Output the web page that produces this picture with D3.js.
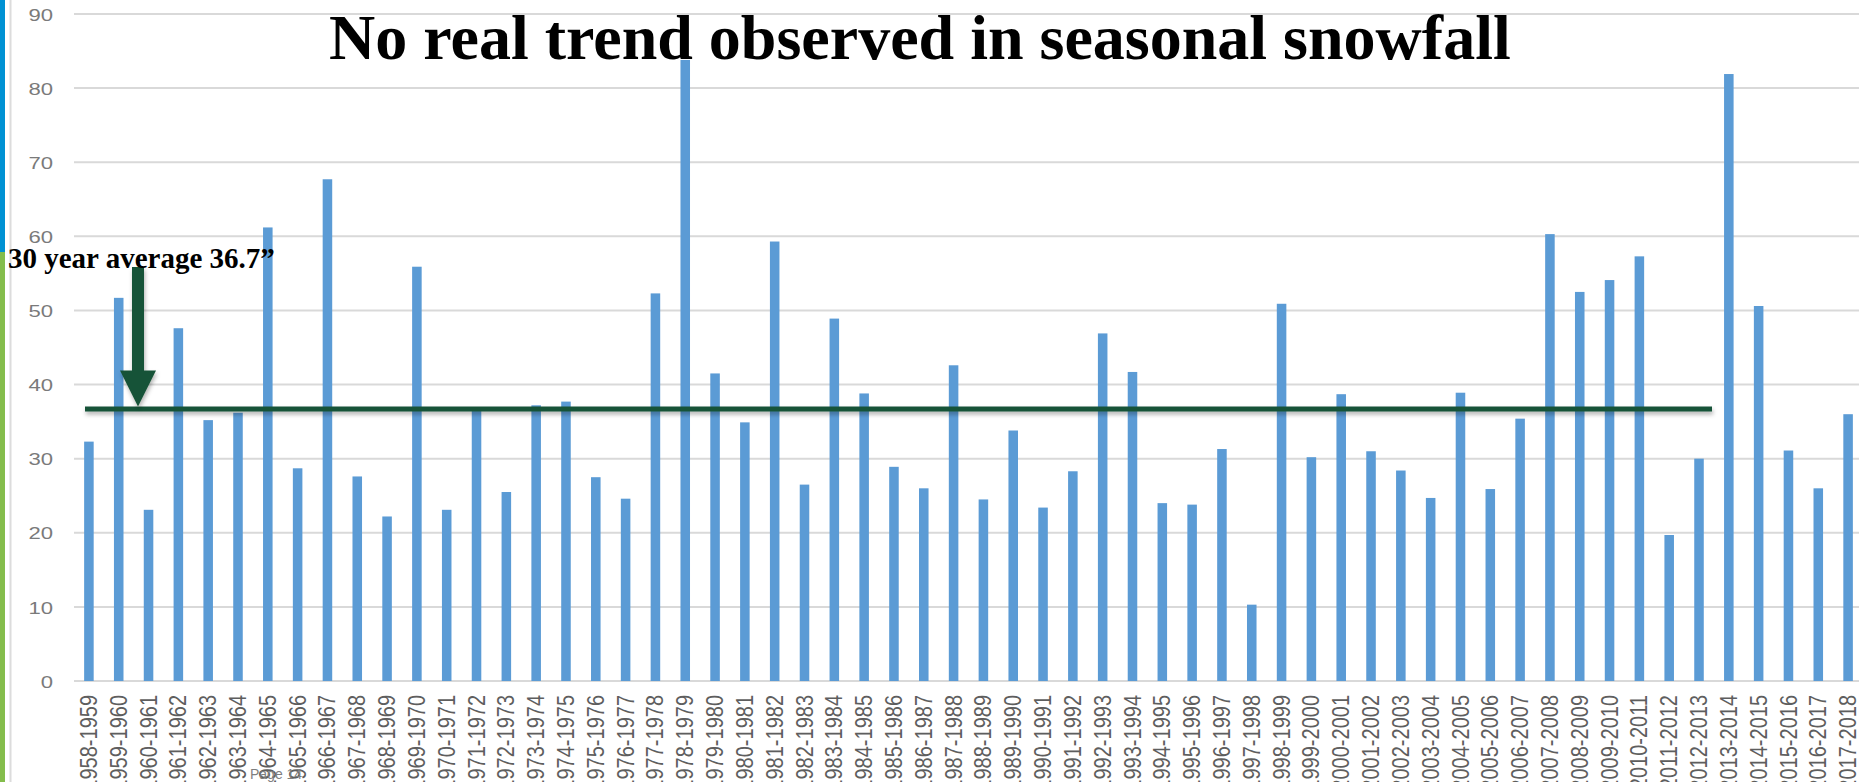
<!DOCTYPE html>
<html>
<head>
<meta charset="utf-8">
<script src="https://cdn.jsdelivr.net/npm/d3@7/dist/d3.min.js"></script>
<style>
  html, body { margin: 0; padding: 0; background: #ffffff; overflow: hidden; }
  svg { display: block; }
</style>
</head>
<body>
<script>
// Seasonal snowfall totals (inches), one bar per winter season
const seasons = [
  "1958-1959","1959-1960","1960-1961","1961-1962","1962-1963","1963-1964",
  "1964-1965","1965-1966","1966-1967","1967-1968","1968-1969","1969-1970",
  "1970-1971","1971-1972","1972-1973","1973-1974","1974-1975","1975-1976",
  "1976-1977","1977-1978","1978-1979","1979-1980","1980-1981","1981-1982",
  "1982-1983","1983-1984","1984-1985","1985-1986","1986-1987","1987-1988",
  "1988-1989","1989-1990","1990-1991","1991-1992","1992-1993","1993-1994",
  "1994-1995","1995-1996","1996-1997","1997-1998","1998-1999","1999-2000",
  "2000-2001","2001-2002","2002-2003","2003-2004","2004-2005","2005-2006",
  "2006-2007","2007-2008","2008-2009","2009-2010","2010-2011","2011-2012",
  "2012-2013","2013-2014","2014-2015","2015-2016","2016-2017","2017-2018"
];
const snowfall = [
  32.3, 51.7, 23.1, 47.6, 35.2, 36.2,
  61.2, 28.7, 67.7, 27.6, 22.2, 55.9,
  23.1, 36.9, 25.5, 37.2, 37.7, 27.5,
  24.6, 52.3, 83.8, 41.5, 34.9, 59.3,
  26.5, 48.9, 38.8, 28.9, 26.0, 42.6,
  24.5, 33.8, 23.4, 28.3, 46.9, 41.7,
  24.0, 23.8, 31.3, 10.3, 50.9, 30.2,
  38.7, 31.0, 28.4, 24.7, 38.9, 25.9,
  35.4, 60.3, 52.5, 54.1, 57.3, 19.7,
  30.0, 81.9, 50.6, 31.1, 26.0, 36.0
];
const yTicks = [0, 10, 20, 30, 40, 50, 60, 70, 80, 90];
const averageValue = 36.7;
const titleText = "No real trend observed in seasonal snowfall";
const averageLabel = "30 year average 36.7\u201d";
const footerText = "Page 14";

const W = 1859, H = 782;
const plot = { left: 74, right: 1863, top: 14, bottom: 681 };

const svg = d3.select("body").append("svg")
  .attr("width", W).attr("height", H)
  .style("font-family", "'Liberation Sans', Arial, sans-serif");

const defs = svg.append("defs");
const shadow = defs.append("filter").attr("id", "soft-shadow")
  .attr("filterUnits", "userSpaceOnUse")
  .attr("x", 0).attr("y", 0).attr("width", W).attr("height", H);
shadow.append("feDropShadow")
  .attr("dx", 1).attr("dy", 3).attr("stdDeviation", 2)
  .attr("flood-color", "#000").attr("flood-opacity", 0.3);

svg.append("rect").attr("width", W).attr("height", H).attr("fill", "#ffffff");

// slide edge accents
svg.append("rect").attr("x", 0).attr("y", 0).attr("width", 5).attr("height", 252).attr("fill", "#0091d3");
svg.append("rect").attr("x", 0).attr("y", 252).attr("width", 5).attr("height", H - 252).attr("fill", "#84bd4c");
svg.append("line").attr("x1", 10.5).attr("x2", 10.5).attr("y1", 0).attr("y2", H)
  .attr("stroke", "#dcdcdc").attr("stroke-width", 2);

const x = d3.scaleBand()
  .domain(seasons)
  .range([plot.left, plot.right])
  .paddingInner(0.68)
  .paddingOuter(0.34);

const y = d3.scaleLinear()
  .domain([0, 90])
  .range([plot.bottom, plot.top]);

// horizontal gridlines
svg.append("g").selectAll("line")
  .data(yTicks)
  .join("line")
  .attr("x1", plot.left).attr("x2", W)
  .attr("y1", d => y(d)).attr("y2", d => y(d))
  .attr("stroke", "#d9d9d9").attr("stroke-width", 2);

// y axis labels (horizontally widened, as in the stretched chart image)
const yAxis = svg.append("g")
  .attr("transform", `translate(${plot.left - 21},0)`)
  .call(d3.axisLeft(y).tickValues(yTicks).tickSize(0).tickPadding(0));
yAxis.select(".domain").remove();
yAxis.selectAll(".tick text")
  .attr("x", 0).attr("dy", "0.36em")
  .attr("text-anchor", "end")
  .attr("fill", "#7a7a7a")
  .style("font-size", "17px")
  .attr("transform", "scale(1.3,1)");

// bars
svg.append("g").selectAll("rect")
  .data(seasons.map((s, i) => ({ season: s, value: snowfall[i] })))
  .join("rect")
  .attr("x", d => x(d.season))
  .attr("width", x.bandwidth())
  .attr("y", d => y(d.value))
  .attr("height", d => y(0) - y(d.value))
  .attr("fill", "#5b9bd5");

// x axis labels, rotated
const xAxis = svg.append("g")
  .attr("transform", `translate(0,${plot.bottom})`)
  .call(d3.axisBottom(x).tickSize(0).tickPadding(0));
xAxis.select(".domain").remove();
xAxis.selectAll(".tick text")
  .attr("text-anchor", "end")
  .attr("fill", "#5e5e5e")
  .style("font-size", "20px")
  .attr("x", 0).attr("y", 0).attr("dy", "0.35em")
  .attr("transform", "translate(0,14) scale(1.15,1) rotate(-90)");

// average line
const avgY = y(averageValue);
const lineW = 5;
svg.append("rect")
  .attr("x", 85).attr("width", 1712 - 85)
  .attr("y", avgY - lineW / 2).attr("height", lineW)
  .attr("fill", "#165237")
  .attr("filter", "url(#soft-shadow)");

// arrow pointing at the average line
const tipY = avgY - lineW / 2, headH = 36, headHalf = 18, shaftHalf = 6, shaftTop = 267, ax = 138;
svg.append("path")
  .attr("d", `M${ax - shaftHalf},${shaftTop} L${ax + shaftHalf},${shaftTop} L${ax + shaftHalf},${tipY - headH}
             L${ax + headHalf},${tipY - headH} L${ax},${tipY} L${ax - headHalf},${tipY - headH}
             L${ax - shaftHalf},${tipY - headH} Z`)
  .attr("fill", "#145238")
  .attr("filter", "url(#soft-shadow)");

// annotation text
svg.append("text")
  .attr("x", 8).attr("y", 268)
  .attr("font-family", "'Liberation Serif', 'Times New Roman', serif")
  .attr("font-weight", "bold")
  .attr("font-size", 29)
  .attr("fill", "#000")
  .text(averageLabel);

// title
svg.append("text")
  .attr("x", 329).attr("y", 59)
  .attr("font-family", "'Liberation Serif', 'Times New Roman', serif")
  .attr("font-weight", "bold")
  .attr("font-size", 64)
  .attr("fill", "#000")
  .text(titleText);

// slide footer
svg.append("text")
  .attr("x", 250).attr("y", 779)
  .attr("font-size", 14)
  .attr("fill", "#7f7f7f")
  .text(footerText);
</script>
</body>
</html>
